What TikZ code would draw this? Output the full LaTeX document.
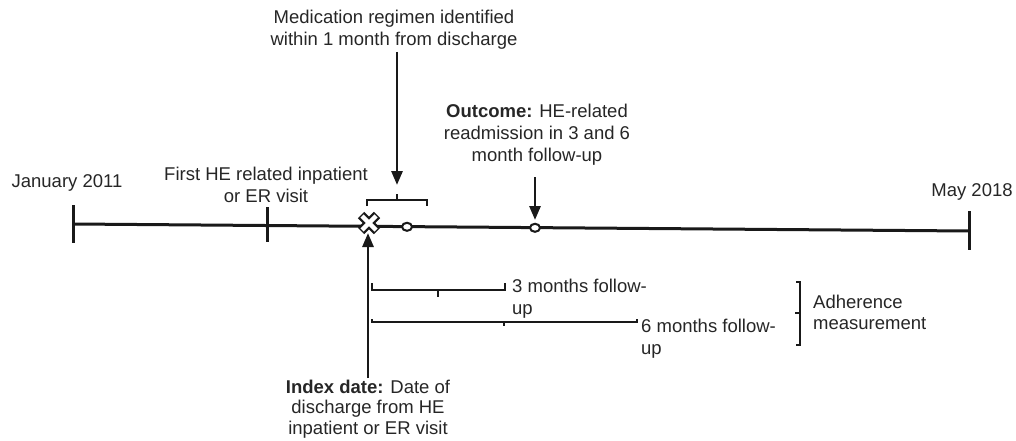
\documentclass[tikz,border=0pt]{standalone}
\usepackage{fontspec}
\setmainfont{Liberation Sans}
\usetikzlibrary{arrows.meta,shapes.geometric,calc}
\begin{document}
\begin{tikzpicture}[x=1pt,y=-1pt,
  lbl/.style={inner sep=0pt,align=center,font=\fontsize{18.5}{22}\selectfont,text=black!85},
  lbll/.style={lbl,align=left,anchor=west},
  tl/.style={line width=3pt,black!90},
  tick/.style={line width=3pt,black!90},
  brk/.style={line width=2.4pt,black!90},
  arr/.style={line width=2.8pt,black!90,-{Triangle[length=14pt,width=11pt]}},
  circ/.style={draw=black!90,fill=white,line width=2pt,ellipse,minimum width=10pt,minimum height=8pt,inner sep=0pt}
]
\useasboundingbox (0,0) rectangle (1016,441);
% timeline
\coordinate (tlA) at (73,224);
\coordinate (tlB) at (969,231);
\draw[tl] (tlA) -- (tlB);
\coordinate (t1a) at (73,205); \coordinate (t1b) at (73,243);
\coordinate (t2a) at (267,207); \coordinate (t2b) at (267,242);
\coordinate (t3a) at (969,211); \coordinate (t3b) at (969,250);
\draw[tick] (t1a) -- (t1b);
\draw[tick] (t2a) -- (t2b);
\draw[tick] (t3a) -- (t3b);
% labels above
\node[lbl] (jan) at (67,183) {January 2011};
\node[lbl] (may) at (972,192) {May 2018};
\node[lbl] (first) at (266,185) {First HE related inpatient\\or ER visit};
\node[lbl] (med) at (394,30) {Medication regimen identified\\within 1 month from discharge};
\node[lbl] (out) at (537,135) {\textbf{Outcome:} HE-related\\readmission in 3 and 6\\month follow-up};
\node[lbl,font=\fontsize{18.5}{20.5}\selectfont] (idx) at (368,409) {\textbf{Index date:} Date of\\discharge from HE\\inpatient or ER visit};
% medication bracket
\coordinate (mbL) at (367,206); \coordinate (mbR) at (427,206);
\coordinate (mbN) at (397,194);
\draw[brk] (mbL) -- (367,200) -- (427,200) -- (mbR);
\draw[brk] (397,200) -- (mbN);
\coordinate (medtip) at (397,185);
\coordinate (medtail) at (397,52);
\draw[arr] (medtail) -- (medtip);
% outcome arrow
\coordinate (outtip) at (535,220);
\coordinate (outtail) at (535,177);
\draw[arr] (outtail) -- (outtip);
% index arrow
\coordinate (idxtip) at (368,233);
\coordinate (idxtail) at (368,378);
\draw[arr] (idxtail) -- (idxtip);
% circles
\node[circ] (c1) at (407,226.8) {};
\node[circ] (c2) at (535,227.8) {};
% X mark
\coordinate (X) at (369,223);
\draw[line width=9pt,black!90] ($(X)+(-8,-8)$) -- ($(X)+(8,8)$) ($(X)+(-8,8)$) -- ($(X)+(8,-8)$);
\draw[line width=4.5pt,white] ($(X)+(-7,-7)$) -- ($(X)+(7,7)$) ($(X)+(-7,7)$) -- ($(X)+(7,-7)$);
% 3 months bracket
\draw[brk] (372,283) -- (372,290) -- (505,290) -- (505,283);
\draw[brk] (438,290) -- (438,297);
\node[lbll] (m3) at (512,299) {3 months follow-\\up};
% 6 months bracket
\draw[brk] (372,319) -- (372,322) -- (637,322) -- (637,319);
\draw[brk] (504,322) -- (504,326);
\node[lbll] (m6) at (641,339) {6 months follow-\\up};
% adherence bracket
\draw[line width=1.6pt,black!90] (796,282) -- (800,282) -- (800,345) -- (796,345);
\draw[line width=1.6pt,black!90] (800,313) -- (795,313);
\node[lbll,font=\fontsize{18.5}{21}\selectfont] (adh) at (813,312) {Adherence\\measurement};
\end{tikzpicture}
\end{document}
